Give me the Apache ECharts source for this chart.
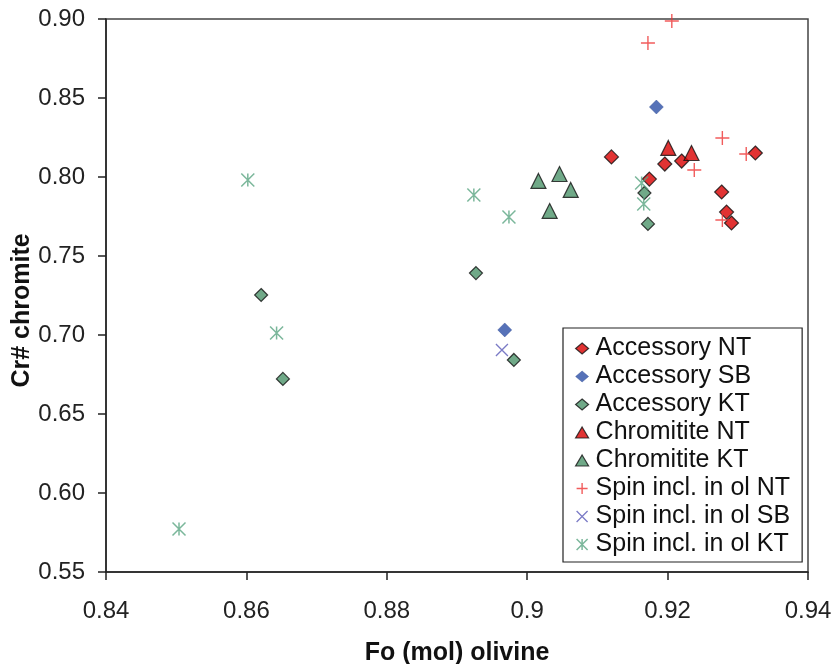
<!DOCTYPE html>
<html>
<head>
<meta charset="utf-8">
<script src="https://cdn.jsdelivr.net/npm/echarts@6/dist/echarts.min.js"></script>
<style>
html,body{margin:0;padding:0;background:#fff;}
#chart{width:837px;height:664px;}
</style>
</head>
<body>
<div id="chart"></div>
<script>
// ---- Data (Fo olivine, Cr# chromite) ----
const accessoryNT = [[0.9120,0.8127],[0.9196,0.8082],[0.9220,0.8101],[0.9174,0.7987],[0.9325,0.8152],[0.9277,0.7905],[0.9284,0.7778],[0.9291,0.7709]];
const accessorySB = [[0.9184,0.8443],[0.8968,0.7032]];
const accessoryKT = [[0.8621,0.7253],[0.8652,0.6722],[0.8927,0.7392],[0.8981,0.6842],[0.9167,0.7899],[0.9172,0.7703]];
const chromititeNT = [[0.9201,0.8184],[0.9234,0.8152]];
const chromititeKT = [[0.9016,0.7975],[0.9046,0.8019],[0.9062,0.7918],[0.9032,0.7785]];
const spinNT = [[0.9206,0.8987],[0.9172,0.8848],[0.9278,0.8247],[0.9312,0.8146],[0.9238,0.8044],[0.9278,0.7728]];
const spinSB = [[0.8964,0.6905]];
const spinKT = [[0.8602,0.7981],[0.8643,0.7013],[0.8504,0.5772],[0.8924,0.7886],[0.8974,0.7747],[0.9163,0.7962],[0.9166,0.7829]];
const seriesNames = ['Accessory NT','Accessory SB','Accessory KT','Chromitite NT','Chromitite KT','Spin incl. in ol NT','Spin incl. in ol SB','Spin incl. in ol KT'];
const xTicks = {min:0.84, max:0.94, step:0.02};
const yTicks = {min:0.55, max:0.90, step:0.05};

const PLUS = 'path://M0,-1L0,1M-1,0L1,0';
const CROSS = 'path://M-1,-1L1,1M-1,1L1,-1';
const STAR = 'path://M-1,-1L1,1M-1,1L1,-1M0,-1L0,1';

const styles = [
  {symbol:'diamond', size:14, item:{color:'#d90000', borderColor:'#111', borderWidth:1.2}},
  {symbol:'diamond', size:14, item:{color:'#2c4fa6', borderColor:'#2a4590', borderWidth:0.5}},
  {symbol:'diamond', size:13, item:{color:'#4c946a', borderColor:'#111', borderWidth:1.2}},
  {symbol:'triangle', size:15, item:{color:'#d90000', borderColor:'#111', borderWidth:1.2}},
  {symbol:'triangle', size:15, item:{color:'#4c946a', borderColor:'#111', borderWidth:1.2}},
  {symbol:PLUS, size:14, item:{color:'rgba(0,0,0,0)', borderColor:'#ee3333', borderWidth:1.4}},
  {symbol:CROSS, size:12, item:{color:'rgba(0,0,0,0)', borderColor:'#5a5ab8', borderWidth:1.3}},
  {symbol:STAR, size:13, item:{color:'rgba(0,0,0,0)', borderColor:'#5aa582', borderWidth:1.5}}
];
const datasets = [accessoryNT, accessorySB, accessoryKT, chromititeNT, chromititeKT, spinNT, spinSB, spinKT];

const chart = echarts.init(document.getElementById('chart'), null, {renderer:'canvas'});
const FONT = 'Liberation Sans, Arial, sans-serif';

const option = {
  backgroundColor:'#fff',
  animation:false,
  grid:{left:106, right:29, top:19, bottom:92, show:true, borderColor:'#444', borderWidth:1.5, backgroundColor:'#fff', containLabel:false, outerBoundsMode:'none'},
  xAxis:{
    type:'value', min:xTicks.min, max:xTicks.max, interval:xTicks.step,
    name:'Fo (mol) olivine', nameLocation:'middle', nameGap:69, nameMoveOverlap:false,
    nameTextStyle:{fontFamily:FONT, fontSize:25, fontWeight:'bold', color:'#111'},
    axisLine:{show:true, onZero:false, lineStyle:{color:'#222', width:1.5}},
    axisTick:{show:true, inside:false, length:8, lineStyle:{color:'#222', width:1.5}},
    axisLabel:{margin:27, fontFamily:FONT, fontSize:24, color:'#222', formatter:v=>String(parseFloat(v.toFixed(2)))},
    splitLine:{show:false}
  },
  yAxis:{
    type:'value', min:yTicks.min, max:yTicks.max, interval:yTicks.step,
    name:'Cr# chromite', nameLocation:'middle', nameGap:71, nameMoveOverlap:false,
    nameTextStyle:{fontFamily:FONT, fontSize:25, fontWeight:'bold', color:'#111', padding:[0,30,0,0]},
    axisLine:{show:true, onZero:false, lineStyle:{color:'#222', width:1.5}},
    axisTick:{show:true, inside:false, length:8, lineStyle:{color:'#222', width:1.5}},
    axisLabel:{margin:21, fontFamily:FONT, fontSize:24, color:'#222', formatter:v=>v.toFixed(2)},
    splitLine:{show:false}
  },
  legend:{
    orient:'vertical', left:563, top:328,
    backgroundColor:'#fff', borderColor:'#222', borderWidth:1.2,
    padding:[8,12,5,12], itemGap:3, itemWidth:13, itemHeight:11,
    textStyle:{fontFamily:FONT, fontSize:25, color:'#111', padding:[0,0,0,2]},
    data: seriesNames.map((n,i)=>({name:n, icon:styles[i].symbol, itemStyle:styles[i].item}))
  },
  series: seriesNames.map((n,i)=>({
    name:n, type:'scatter', symbol:styles[i].symbol, symbolSize:styles[i].size,
    itemStyle:styles[i].item, data:datasets[i], z:2+i,
    emphasis:{disabled:true}
  }))
};
chart.setOption(option);
</script>
</body>
</html>
